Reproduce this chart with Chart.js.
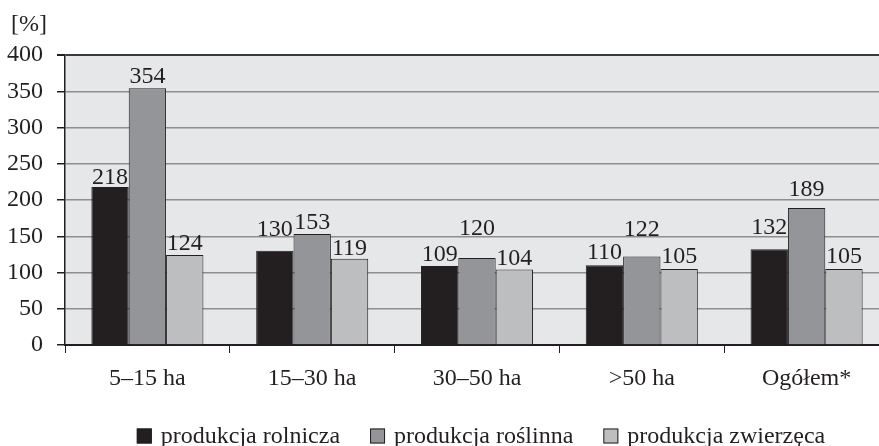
<!DOCTYPE html>
<html>
<head>
<meta charset="utf-8">
<script src="https://cdn.jsdelivr.net/npm/chart.js@4"></script>
<style>
  html, body { margin: 0; padding: 0; background: #fff; overflow: hidden; }
  #wrap { width: 890px; height: 446px; position: relative; }
</style>
</head>
<body>
<div id="wrap"><canvas id="chart"></canvas></div>
<script>
const categories = ['5–15 ha', '15–30 ha', '30–50 ha', '>50 ha', 'Ogółem*'];
const seriesNames = ['produkcja rolnicza', 'produkcja roślinna', 'produkcja zwierzęca'];
const rolnicza = [218, 130, 109, 110, 132];
const roslinna = [354, 153, 120, 122, 189];
const zwierzeca = [124, 119, 104, 105, 105];
const yTicks = [0, 50, 100, 150, 200, 250, 300, 350, 400];

// gap between bar top and its label, px (labels were hand-placed in the original)
const labelGap = [
  [3, 15, 5, 6, 15],
  [5, 5, 23, 21, 12],
  [5, 4, 5, 6, 6]
];

const SERIF = '"Liberation Serif", "DejaVu Serif", serif';
const INK = '#231f20';
const FILLS = ['#231f20', '#939598', '#bcbec0'];

const plotBackground = {
  id: 'plotBackground',
  beforeDraw(chart) {
    const { ctx, chartArea: a } = chart;
    ctx.save();
    ctx.fillStyle = '#e6e7e8';
    ctx.fillRect(a.left, a.top, a.right - a.left, a.bottom - a.top);
    ctx.restore();
  }
};

const barLabels = {
  id: 'barLabels',
  afterDatasetsDraw(chart) {
    const { ctx } = chart;
    ctx.save();
    ctx.font = '24px ' + SERIF;
    ctx.fillStyle = INK;
    ctx.textAlign = 'center';
    ctx.textBaseline = 'alphabetic';
    chart.data.datasets.forEach((ds, i) => {
      chart.getDatasetMeta(i).data.forEach((bar, j) => {
        ctx.fillText(String(ds.data[j]), bar.x, bar.y - labelGap[i][j]);
      });
    });
    // unit label above the y axis
    ctx.textAlign = 'left';
    ctx.fillText('[%]', 11, 31);
    ctx.restore();
  }
};

// legend drawn by hand so box size and spacing follow the original
const bottomLegend = {
  id: 'bottomLegend',
  afterDraw(chart) {
    const { ctx, chartArea: a } = chart;
    const box = 15, gapText = 9, gapItem = 30, y = 437;
    ctx.save();
    ctx.font = '24px ' + SERIF;
    const widths = chart.data.datasets.map(d => ctx.measureText(d.label).width);
    let total = widths.reduce((s, w) => s + w + box + gapText, 0) + gapItem * (widths.length - 1);
    let x = (a.left + a.right) / 2 - total / 2 + 4;
    chart.data.datasets.forEach((d, i) => {
      ctx.fillStyle = d.backgroundColor;
      ctx.fillRect(x, y - box / 2 - 1, box, box);
      ctx.strokeStyle = INK;
      ctx.lineWidth = 1;
      ctx.strokeRect(x + 0.5, y - box / 2 - 0.5, box - 1, box - 1);
      x += box + gapText;
      ctx.fillStyle = INK;
      ctx.textBaseline = 'middle';
      ctx.textAlign = 'left';
      ctx.fillText(d.label, x, y);
      x += widths[i] + gapItem;
    });
    ctx.restore();
  }
};

new Chart(document.getElementById('chart'), {
  type: 'bar',
  data: {
    labels: categories,
    datasets: [rolnicza, roslinna, zwierzeca].map((values, i) => ({
      label: seriesNames[i],
      data: values,
      backgroundColor: FILLS[i],
      borderColor: INK,
      borderWidth: 1,
      borderSkipped: 'bottom',
      categoryPercentage: 0.68,
      barPercentage: 1
    }))
  },
  options: {
    responsive: true,
    maintainAspectRatio: false,
    animation: false,
    layout: { padding: { top: 55, right: 1, left: 0, bottom: 51 } },
    scales: {
      x: {
        grid: {
          drawOnChartArea: false,
          color: INK,
          tickLength: 8,
          offset: true
        },
        border: { color: INK, width: 2 },
        ticks: { color: INK, font: { family: SERIF, size: 24 }, padding: 11 },
        afterFit(scale) { scale.height = 50; }
      },
      y: {
        min: 0,
        max: 400,
        afterBuildTicks(scale) { scale.ticks = yTicks.map(v => ({ value: v })); },
        grid: {
          color: ctx => (ctx.tick && ctx.tick.value === 400) ? '#3a3a3a' : '#8e8e8e',
          lineWidth: ctx => (ctx.tick && ctx.tick.value === 400) ? 2 : 1.5,
          tickColor: INK,
          tickLength: 8
        },
        border: { color: INK, width: 1.5 },
        ticks: { color: INK, font: { family: SERIF, size: 24 }, padding: 14 },
        afterFit(scale) { scale.width = 65; }
      }
    },
    plugins: {
      legend: { display: false },
      tooltip: { enabled: false }
    }
  },
  plugins: [plotBackground, barLabels, bottomLegend]
});
</script>
</body>
</html>
